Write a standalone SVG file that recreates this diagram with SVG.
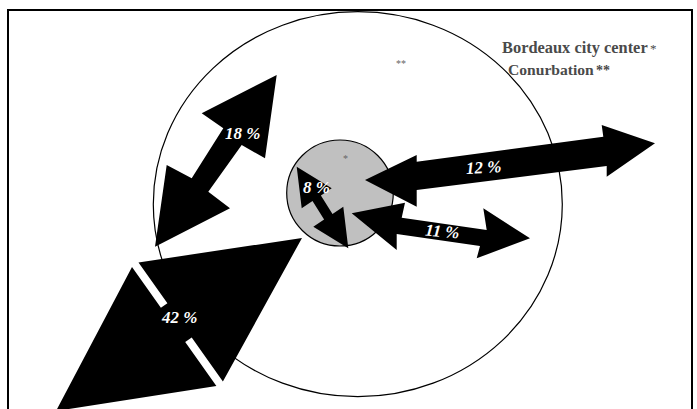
<svg xmlns="http://www.w3.org/2000/svg" width="697" height="409" viewBox="0 0 697 409">
<style>
.frame{fill:none;stroke:#000;stroke-width:2}
.zone{stroke:#000;stroke-width:1.2}
.arrow{fill:#000;stroke:none}
.pct{font-family:"Liberation Serif","Times New Roman",serif;font-weight:bold;font-style:italic;font-size:17px;fill:#fff}
.legend{font-family:"Liberation Serif","Times New Roman",serif;font-weight:bold;fill:#4a4a4a}
.mark{font-family:"Liberation Serif","Times New Roman",serif;font-size:10px;fill:#666}
</style>
<rect width="697" height="409" fill="#fff"/>
<path class="frame" d="M8,410 V10 H692 V410"/>
<g id="conurbation">
<ellipse class="zone" cx="357.8" cy="204.2" rx="204.5" ry="192.5" fill="#fff"/>
<text class="mark" x="396" y="67">**</text>
</g>
<g id="city-center">
<ellipse class="zone" cx="340" cy="193" rx="53.3" ry="53" fill="#c0c0c0"/>
<text class="mark" x="343" y="162">*</text>
</g>
<g id="connectors">
<g id="flow-42">
<polygon class="arrow" points="56,411 132,267 160.9,307.8 167.4,303.2 138.5,262.4 302,238 222.9,381.5 191.7,337.5 185.2,342.1 216.4,386.1"/>
<text class="pct" x="162" y="323">42 %</text>
</g>
<g id="flow-18">
<polygon class="arrow" points="276.7,75 201.7,113.3 223.3,128.3 191.7,178.3 166.7,165 155,246.7 230,208.3 208.3,191.7 241.7,145 265,158.3"/>
<text class="pct" x="225" y="139">18 %</text>
</g>
<g id="flow-11">
<polygon class="arrow" points="351.7,213.3 405,202.7 401.7,217.7 486.7,230 483.3,208.3 530,238.3 476.7,258.3 480,246 396.7,234 396.7,250"/>
<text class="pct" x="425" y="237" transform="rotate(5 442 232)">11 %</text>
</g>
<g id="flow-12">
<polygon class="arrow" points="365,180 416.7,155 416.7,161.7 603.3,136.7 601.7,125 655,143.3 606.7,176.7 606.7,166 416.7,190 416.7,206.7"/>
<text class="pct" x="466" y="173" transform="rotate(-3 483 168)">12 %</text>
</g>
<g id="flow-8">
<polygon class="arrow" points="296.7,166.7 301.7,208.3 312.5,201 324.1,219.4 313.3,226.7 348.3,248.3 343.3,206.7 332.5,214 320.9,195.6 331.7,188.3"/>
<text class="pct" x="303" y="193">8 %</text>
</g>
</g>
<g id="legend">
<text class="legend" x="502" y="53" style="font-size:16.4px">Bordeaux city center</text>
<text class="legend" x="650" y="53" style="font-size:13px;font-weight:normal">*</text>
<text class="legend" x="508" y="75" style="font-size:15.6px">Conurbation</text>
<text class="legend" x="596" y="75" style="font-size:14px">**</text>
</g>
</svg>
